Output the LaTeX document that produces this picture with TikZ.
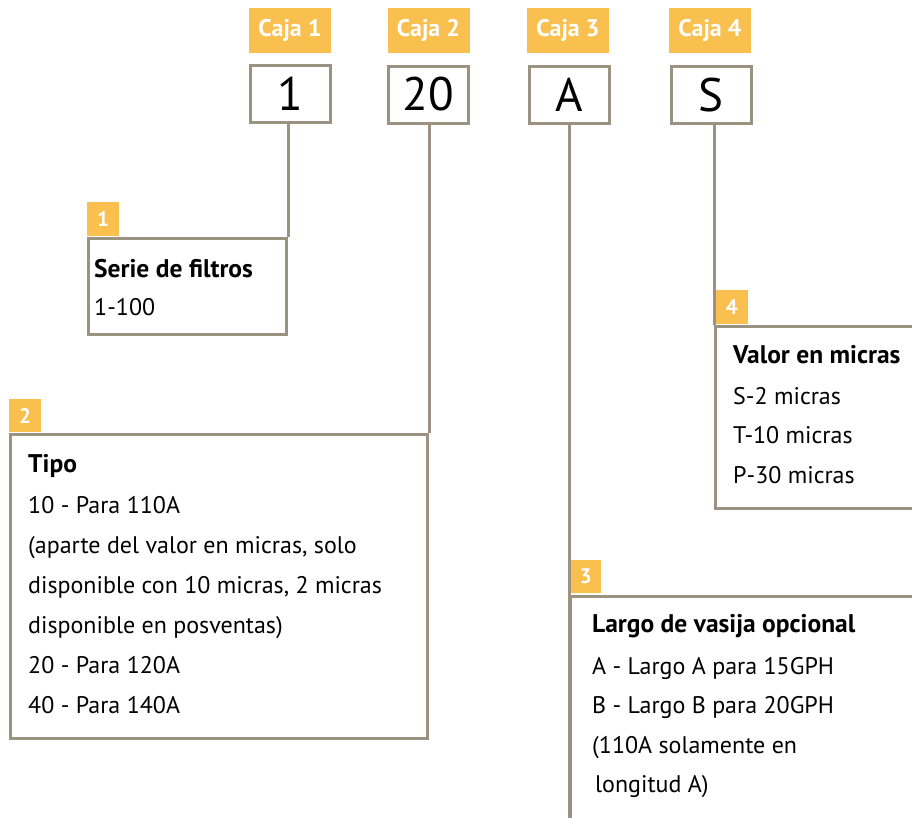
\documentclass[tikz,border=0pt]{standalone}
\usepackage{fontspec}
\setmainfont{PT Sans}
\definecolor{tagor}{HTML}{F9C04F}
\definecolor{lin}{HTML}{9C9282}
\begin{document}
\begin{tikzpicture}[x=1pt,y=-1pt,
  caja/.style={fill=tagor,text=white,font=\fontsize{24}{24}\selectfont\bfseries,minimum width=82pt,minimum height=45pt,inner sep=0pt},
  valbox/.style={draw=lin,line width=3pt,fill=white,minimum width=80pt,minimum height=57pt,inner sep=0pt,font=\fontsize{47}{47}\selectfont},
  descbox/.style={draw=lin,line width=3pt,anchor=north west,inner sep=0pt},
  tag/.style={fill=tagor,text=white,font=\fontsize{21}{21}\selectfont\bfseries,anchor=north west,inner sep=0pt},
  conn/.style={draw=lin,line width=3pt},
  hd/.style={anchor=base west,inner sep=0pt,font=\fontsize{25.5}{25.5}\selectfont\bfseries},
  tx/.style={anchor=base west,inner sep=0pt,font=\fontsize{24}{24}\selectfont}]
\clip (0,0) rectangle (912,817);
\fill[white] (0,0) rectangle (912,817);
% top labels
\node[caja] (c1) at (290,30.5) {Caja 1};
\node[caja] (c2) at (428.5,30.5) {Caja 2};
\node[caja] (c3) at (568,30.5) {Caja 3};
\node[caja] (c4) at (710,30.5) {Caja 4};
% value boxes
\node[valbox] (v1) at (290,93.5) {1};
\node[valbox] (v2) at (428,94.5) {20};
\node[valbox] (v3) at (569,94.5) {A};
\node[valbox] (v4) at (711,95) {S};
% description boxes
\node[descbox,minimum width=198pt,minimum height=96pt] (d1) at (87,237) {};
\node[descbox,minimum width=417pt,minimum height=304pt] (d2) at (9,433) {};
\node[descbox,minimum width=360pt,minimum height=260pt] (d3) at (569,595) {};
\node[descbox,minimum width=220pt,minimum height=182pt] (d4) at (714,325) {};
% tags
\node[tag,minimum width=32pt,minimum height=34pt] (t1) at (87,202) {1};
\node[tag,minimum width=32pt,minimum height=33pt] (t2) at (9,399) {2};
\node[tag,minimum width=31pt,minimum height=33pt] (t3) at (570,560) {3};
\node[tag,minimum width=33pt,minimum height=34pt] (t4) at (715,290) {4};
% connectors
\coordinate (bot) at (569,830);
\draw[conn] (v1.south -| d1.north east) -- (d1.north east);
\draw[conn] (v2.south -| d2.north east) -- (d2.north east);
\draw[conn] (v3.south -| d3.north west) -- (bot);
\draw[conn] (v4.south -| d4.north west) -- (d4.north west);
% texts box 1
\node[hd] (h1) at (94,277) {Serie de filtros};
\node[tx] (l11) at (94,315) {1-100};
% box 2
\node[hd] (h2) at (28,472) {Tipo};
\node[tx] (l21) at (28,513) {10 - Para 110A};
\node[tx] (l22) at (28,553) {(aparte del valor en micras, solo};
\node[tx] (l23) at (28,593) {disponible con 10 micras, 2 micras};
\node[tx] (l24) at (28,633) {disponible en posventas)};
\node[tx] (l25) at (28,673) {20 - Para 120A};
\node[tx] (l26) at (28,713) {40 - Para 140A};
% box 4
\node[hd] (h4) at (733,363) {Valor en micras};
\node[tx] (l41) at (733,404) {S-2 micras};
\node[tx] (l42) at (733,443) {T-10 micras};
\node[tx] (l43) at (733,483) {P-30 micras};
% box 3
\node[hd] (h3) at (592,632) {Largo de vasija opcional};
\node[tx] (l31) at (592,674) {A - Largo A para 15GPH};
\node[tx] (l32) at (592,713) {B - Largo B para 20GPH};
\node[tx] (l33) at (592,753) {(110A solamente en};
\node[tx] (l34) at (595,792) {longitud A)};
\end{tikzpicture}
\end{document}
